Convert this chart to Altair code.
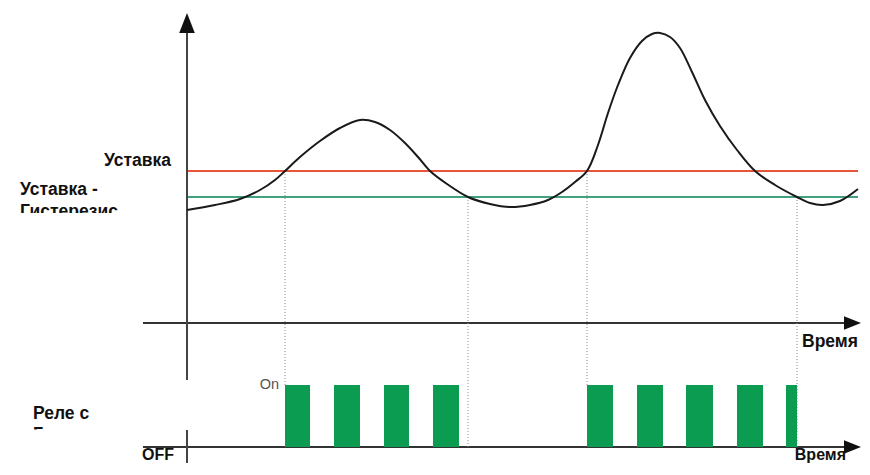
import altair as alt
import pandas as pd

# ---- data (time t, level) ----
curve_t = [0, 28, 53, 73, 88, 98, 113, 133, 153, 173, 188, 203, 218, 231, 243, 260, 281,
           303, 323, 343, 361, 375, 388, 400, 411, 421, 431, 443, 455, 465, 473, 483, 493,
           505, 518, 533, 550, 568, 588, 610, 623, 636, 653, 671]
curve_v = [237, 242, 248, 257, 267, 276, 290, 306, 319, 327, 325, 317, 304, 290, 276, 263, 250,
           243, 240, 242, 247, 255, 265, 276, 302, 334, 362, 389, 406, 413, 414, 410, 399,
           375, 347, 321, 297, 276, 262, 250, 244, 242, 246, 258]

setpoint = 276
setpoint_minus_hyst = 250
line_start, line_end = 0, 671

relay_on_start = [98, 147, 197, 246, 400, 450, 499, 550, 599]
relay_on_end = [123, 173, 222, 272, 426, 476, 526, 576, 610]
relay_on_level = 62
relay_off_level = 0

switch_t = [98, 281, 400, 610]
switch_from = [276, 250, 276, 250]
switch_to = [62, 0, 62, 0]

time_axes_level = [124, 0]
time_axes_start = [-44, -44]
time_axes_end = [668, 668]
value_axis_t = [0, 0]
value_axis_from = [418, -16]
value_axis_to = [67, 17]
arrow_up = {"t": [0], "v": [424]}
arrow_right = {"t": [665.5, 665.5], "v": [124, 0]}

labels = ["Уставка", "Уставка -", "Гистерезис", "Реле с", "Гистерезисом", "OFF", "Время", "Время"]
label_t = [-16, -167, -167, -154, -154, -45, 671, 659]
label_v = [281, 252, 230, 28, 7, -13, 100, -13]
label_size = [17.5, 17.5, 17.5, 17.5, 17.5, 16, 17.5, 16]
label_align = ["right", "left", "left", "left", "left", "left", "right", "right"]

on_label = {"text": ["On"], "t": [92], "v": [58]}

mask_t = [-187, -187]
mask_t2 = [-20, -20]
mask_v = [234, 17.5]
mask_v2 = [218, 2.5]

# ---- scales ----
xs = alt.Scale(domain=[-179, 675], nice=False, zero=False)
ys = alt.Scale(domain=[-16, 439], nice=False, zero=False)

def X(f):
    return alt.X(f, type="quantitative", scale=xs, axis=None)

def Y(f):
    return alt.Y(f, type="quantitative", scale=ys, axis=None)

curve_df = pd.DataFrame({"t": curve_t, "v": curve_v})
thr_df = pd.DataFrame({"t": [line_start] * 2, "t2": [line_end] * 2,
                       "v": [setpoint, setpoint_minus_hyst],
                       "kind": ["Уставка", "Уставка - Гистерезис"]})
relay_df = pd.DataFrame({"t": relay_on_start, "t2": relay_on_end,
                         "v": [relay_off_level] * len(relay_on_start),
                         "v2": [relay_on_level] * len(relay_on_start)})
switch_df = pd.DataFrame({"t": switch_t, "v": switch_from, "v2": switch_to})
taxes_df = pd.DataFrame({"t": time_axes_start, "t2": time_axes_end, "v": time_axes_level})
vaxis_df = pd.DataFrame({"t": value_axis_t, "v": value_axis_from, "v2": value_axis_to})
lab_df = pd.DataFrame({"text": labels, "t": label_t, "v": label_v,
                       "size": label_size, "align": label_align})
mask_df = pd.DataFrame({"t": mask_t, "t2": mask_t2, "v": mask_v, "v2": mask_v2})

thr = alt.Chart(thr_df).mark_rule(strokeWidth=2).encode(
    x=X("t"), x2="t2", y=Y("v"),
    color=alt.Color("kind:N", scale=alt.Scale(domain=["Уставка", "Уставка - Гистерезис"],
                                              range=["#e9553a", "#3fa27c"]), legend=None))

taxes = alt.Chart(taxes_df).mark_rule(strokeWidth=2, color="#333333").encode(
    x=X("t"), x2="t2", y=Y("v"))
vaxis = alt.Chart(vaxis_df).mark_rule(strokeWidth=2, color="#444444").encode(
    x=X("t"), y=Y("v"), y2="v2")

arrow_path = "M1,0 L-1,-0.78 L-1,0.78 Z"
up = alt.Chart(pd.DataFrame(arrow_up)).mark_point(
    shape=arrow_path, filled=True, size=400, angle=270, color="#111111", opacity=1).encode(
    x=X("t"), y=Y("v"))
right = alt.Chart(pd.DataFrame(arrow_right)).mark_point(
    shape=arrow_path, filled=True, size=289, color="#111111", opacity=1).encode(
    x=X("t"), y=Y("v"))

curve = alt.Chart(curve_df).mark_line(color="#1a1a1a", strokeWidth=2,
                                      interpolate="catmull-rom").encode(
    x=X("t"), y=Y("v"))

switch = alt.Chart(switch_df).mark_rule(color="#8a8a8a", strokeWidth=1, strokeDash=[1, 2]).encode(
    x=X("t"), y=Y("v"), y2="v2")

relay = alt.Chart(relay_df).mark_rect(color="#0b9c52").encode(
    x=X("t"), x2="t2", y=Y("v"), y2="v2")

text_layers = []
for al in ["left", "right"]:
    text_layers.append(alt.Chart(lab_df[lab_df["align"] == al]).mark_text(
        font="Liberation Sans", fontWeight="bold", color="#111111",
        align=al, baseline="alphabetic").encode(
        x=X("t"), y=Y("v"), text="text:N",
        size=alt.Size("size:Q", scale=None, legend=None)))

on_text = alt.Chart(pd.DataFrame(on_label)).mark_text(
    font="Liberation Sans", fontSize=14.5, color="#555555", align="right",
    baseline="alphabetic").encode(x=X("t"), y=Y("v"), text="text:N")

mask = alt.Chart(mask_df).mark_rect(color="white", opacity=1).encode(
    x=X("t"), x2="t2", y=Y("v"), y2="v2")

chart = alt.layer(
    thr, taxes, vaxis, up, right, switch, relay, curve, *text_layers, on_text, mask
).properties(
    width=854, height=455, padding=0, autosize=alt.AutoSizeParams(type="none"),
    background="white"
).configure_view(stroke=None)

chart.save("out.html", embed_options={"renderer": "svg", "actions": False})
